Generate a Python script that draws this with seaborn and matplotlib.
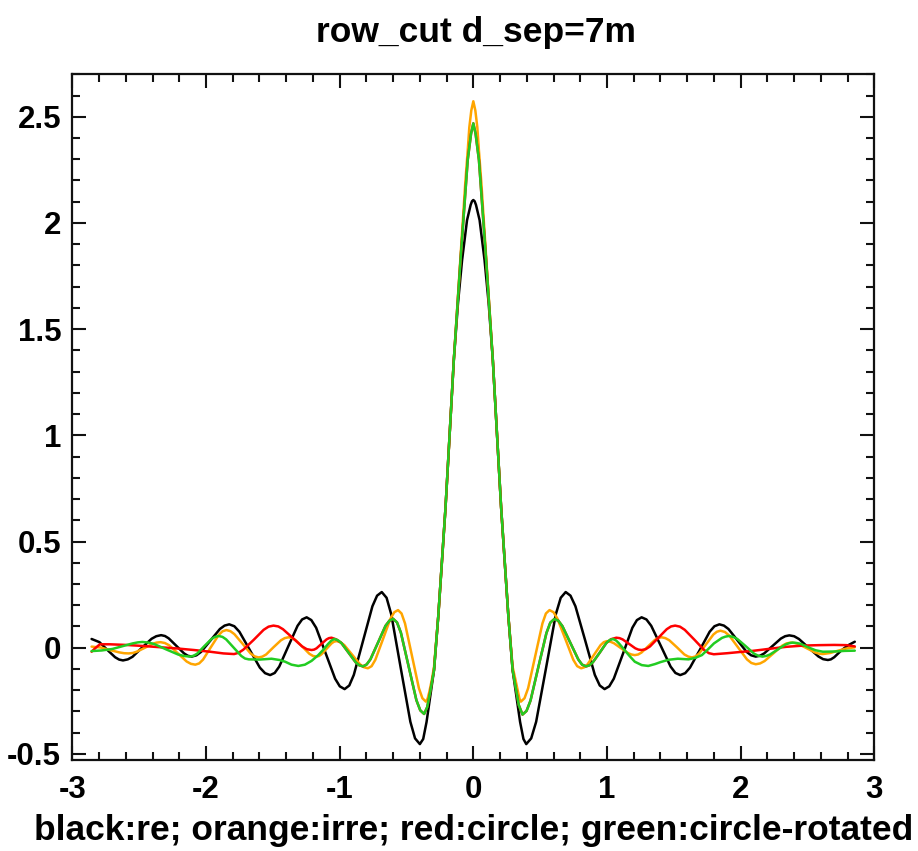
import numpy as np
import pandas as pd
import matplotlib
matplotlib.use("Agg")
import matplotlib.pyplot as plt
import seaborn as sns
from matplotlib.ticker import MultipleLocator

# ---------------- data ----------------
x_black = [-2.856, -2.797, -2.739, -2.680, -2.650, -2.621, -2.585, -2.550, -2.479, -2.407,
           -2.372, -2.336, -2.307, -2.279, -2.222, -2.164, -2.136, -2.107, -2.072,
           -2.037, -1.967, -1.896, -1.861, -1.826, -1.788, -1.750, -1.673, -1.597,
           -1.558, -1.520, -1.486, -1.452, -1.384, -1.315, -1.281, -1.247, -1.212,
           -1.176, -1.105, -1.034, -0.999, -0.963, -0.928, -0.894, -0.824, -0.755,
           -0.720, -0.685, -0.649, -0.614, -0.543, -0.471, -0.436, -0.400, -0.375,
           -0.350, -0.320, -0.294, -0.262, -0.232, -0.208, -0.190, -0.146, -0.115,
           -0.084, -0.047, -0.020, -0.010, 0.0,
           0.010, 0.020, 0.047, 0.084, 0.115, 0.146, 0.190, 0.208, 0.232, 0.262,
           0.294, 0.320, 0.350, 0.375, 0.396, 0.433, 0.470, 0.544, 0.617, 0.654,
           0.691, 0.727, 0.764, 0.837, 0.909, 0.946, 0.982, 1.017, 1.051, 1.121,
           1.190, 1.224, 1.259, 1.295, 1.331, 1.404, 1.476, 1.512, 1.548, 1.585,
           1.621, 1.695, 1.768, 1.804, 1.841, 1.875, 1.909, 1.977, 2.045, 2.079,
           2.113, 2.144, 2.176, 2.239, 2.301, 2.333, 2.364, 2.400, 2.436, 2.509,
           2.581, 2.617, 2.653, 2.675, 2.700, 2.750, 2.800, 2.854]
y_black = [0.041, 0.026, -0.010, -0.045, -0.056, -0.060, -0.055, -0.043, 0.000, 0.042,
           0.054, 0.059, 0.055, 0.044, 0.009, -0.027, -0.038, -0.042, -0.036,
           -0.020, 0.034, 0.088, 0.104, 0.110, 0.101, 0.075, -0.010, -0.094,
           -0.120, -0.129, -0.119, -0.089, 0.007, 0.103, 0.133, 0.143, 0.130,
           0.094, -0.026, -0.146, -0.182, -0.195, -0.178, -0.128, 0.034, 0.195,
           0.245, 0.262, 0.235, 0.157, -0.096, -0.349, -0.427, -0.454, -0.430,
           -0.350, -0.220, -0.105, 0.150, 0.430, 0.660, 0.860, 1.354, 1.620,
           1.825, 2.013, 2.085, 2.102, 2.108,
           2.102, 2.085, 2.013, 1.825, 1.620, 1.354, 0.860, 0.660, 0.430, 0.150,
           -0.105, -0.220, -0.350, -0.430, -0.454, -0.427, -0.349, -0.096, 0.157, 0.235,
           0.262, 0.245, 0.195, 0.034, -0.128, -0.178, -0.195, -0.182, -0.146, -0.026,
           0.094, 0.130, 0.143, 0.133, 0.103, 0.007, -0.089, -0.119, -0.129, -0.120,
           -0.094, -0.010, 0.075, 0.101, 0.110, 0.104, 0.088, 0.034, -0.020, -0.036,
           -0.042, -0.038, -0.027, 0.008, 0.043, 0.054, 0.058, 0.054, 0.041, 0.000,
           -0.041, -0.054, -0.058, -0.055, -0.045, -0.015, 0.010, 0.028]

x_orange = [-2.856, -2.790, -2.720, -2.650, -2.613, -2.578, -2.548, -2.519, -2.459, -2.400,
            -2.370, -2.340, -2.308, -2.275, -2.210, -2.145, -2.113, -2.080, -2.051,
            -2.022, -1.964, -1.906, -1.877, -1.848, -1.818, -1.788, -1.727, -1.667,
            -1.636, -1.606, -1.578, -1.550, -1.495, -1.439, -1.411, -1.383, -1.357,
            -1.331, -1.278, -1.226, -1.199, -1.173, -1.154, -1.136, -1.099, -1.061,
            -1.043, -1.024, -0.995, -0.965, -0.907, -0.848, -0.818, -0.789, -0.761,
            -0.733, -0.676, -0.620, -0.591, -0.563, -0.537, -0.511, -0.459, -0.407,
            -0.381, -0.355, -0.342, -0.330, -0.310, -0.294, -0.262, -0.232, -0.208,
            -0.190, -0.146, -0.096, -0.060, -0.042, -0.030, -0.015, 0.0,
            0.015, 0.030, 0.042, 0.060, 0.096, 0.146, 0.190, 0.208, 0.232, 0.262,
            0.294, 0.315, 0.335, 0.345, 0.356, 0.383, 0.410, 0.463, 0.517, 0.543,
            0.570, 0.600, 0.629, 0.689, 0.748, 0.777, 0.807, 0.831, 0.855, 0.904,
            0.952, 0.976, 1.000, 1.026, 1.052, 1.104, 1.156, 1.182, 1.208, 1.233,
            1.258, 1.309, 1.359, 1.384, 1.409, 1.437, 1.466, 1.523, 1.579, 1.608,
            1.636, 1.663, 1.689, 1.743, 1.796, 1.822, 1.849, 1.882, 1.915, 1.981,
            2.047, 2.080, 2.113, 2.146, 2.179, 2.245, 2.310, 2.343, 2.376, 2.406,
            2.436, 2.496, 2.555, 2.585, 2.615, 2.670, 2.730, 2.790, 2.854]
y_orange = [0.005, 0.001, -0.011, -0.022, -0.026, -0.027, -0.025, -0.019, -0.001, 0.018,
            0.024, 0.026, 0.022, 0.011, -0.027, -0.065, -0.076, -0.080, -0.074,
            -0.056, 0.002, 0.059, 0.077, 0.083, 0.078, 0.064, 0.019, -0.027,
            -0.041, -0.046, -0.042, -0.032, 0.002, 0.035, 0.045, 0.049, 0.046,
            0.036, 0.004, -0.029, -0.039, -0.042, -0.039, -0.031, -0.006, 0.020,
            0.028, 0.031, 0.026, 0.012, -0.033, -0.078, -0.092, -0.097, -0.087,
            -0.057, 0.040, 0.137, 0.167, 0.177, 0.161, 0.114, -0.039, -0.191,
            -0.238, -0.254, -0.240, -0.210, -0.150, -0.090, 0.150, 0.430, 0.660,
            0.860, 1.354, 1.840, 2.190, 2.340, 2.450, 2.530, 2.573,
            2.530, 2.450, 2.340, 2.190, 1.840, 1.354, 0.860, 0.660, 0.430, 0.150,
            -0.090, -0.150, -0.210, -0.240, -0.254, -0.238, -0.191, -0.039, 0.114, 0.161,
            0.177, 0.167, 0.137, 0.040, -0.057, -0.087, -0.097, -0.092, -0.078, -0.033,
            0.012, 0.026, 0.031, 0.028, 0.021, -0.002, -0.025, -0.032, -0.035, -0.032,
            -0.023, 0.007, 0.037, 0.046, 0.049, 0.045, 0.035, 0.002, -0.032, -0.042,
            -0.046, -0.041, -0.028, 0.017, 0.062, 0.075, 0.080, 0.074, 0.057, 0.001,
            -0.055, -0.072, -0.078, -0.074, -0.063, -0.027, 0.009, 0.020, 0.024, 0.022,
            0.016, -0.003, -0.022, -0.028, -0.030, -0.025, -0.014, -0.004, 0.002]

x_green = [-2.856, -2.780, -2.700, -2.630, -2.550, -2.510, -2.476, -2.430, -2.387, -2.298,
           -2.209, -2.165, -2.120, -2.093, -2.066, -2.013, -1.959, -1.932, -1.905,
           -1.877, -1.849, -1.793, -1.736, -1.708, -1.680, -1.600, -1.510, -1.450,
           -1.408, -1.360, -1.309, -1.260, -1.210, -1.160, -1.120, -1.086, -1.063,
           -1.040, -1.013,
           -0.987, -0.933, -0.880, -0.853, -0.826, -0.798, -0.770, -0.713, -0.657,
           -0.628, -0.600, -0.571, -0.542, -0.484, -0.426, -0.397, -0.368, -0.345,
           -0.320, -0.294, -0.262, -0.232, -0.208, -0.190, -0.146, -0.096, -0.042,
           -0.017, 0.0, 0.017, 0.042, 0.096, 0.146, 0.190, 0.208, 0.232, 0.262,
           0.294, 0.315, 0.340, 0.368, 0.398, 0.428, 0.487, 0.547, 0.576, 0.606,
           0.636, 0.666, 0.725, 0.785, 0.814, 0.844, 0.869, 0.894, 0.945, 0.995,
           1.020, 1.045, 1.068, 1.090, 1.130, 1.170, 1.208, 1.260, 1.309, 1.360,
           1.400, 1.460, 1.530, 1.610, 1.660, 1.710, 1.760, 1.800, 1.860, 1.886,
           1.912, 1.943, 1.975, 2.038, 2.100, 2.132, 2.163, 2.191, 2.220, 2.276,
           2.333, 2.361, 2.389, 2.420, 2.450, 2.500, 2.560, 2.615, 2.700, 2.780, 2.854]
y_green = [-0.016, -0.013, -0.006, 0.006, 0.020, 0.025, 0.027, 0.024, 0.017, -0.008,
           -0.032, -0.039, -0.042, -0.038, -0.028, 0.007, 0.041, 0.051, 0.055,
           0.051, 0.039, 0.000, -0.039, -0.051, -0.055, -0.056, -0.052, -0.058,
           -0.066, -0.080, -0.086, -0.080, -0.062, -0.035, -0.008, 0.018, 0.033,
           0.041, 0.035,
           0.022, -0.024, -0.069, -0.083, -0.088, -0.079, -0.055, 0.024, 0.103,
           0.127, 0.136, 0.119, 0.071, -0.088, -0.247, -0.295, -0.312, -0.280,
           -0.200, -0.105, 0.150, 0.430, 0.660, 0.860, 1.354, 1.825, 2.296,
           2.420, 2.469, 2.420, 2.296, 1.825, 1.354, 0.860, 0.660, 0.430, 0.150,
           -0.105, -0.180, -0.270, -0.315, -0.298, -0.249, -0.090, 0.069, 0.118, 0.135,
           0.127, 0.102, 0.024, -0.055, -0.080, -0.088, -0.083, -0.069, -0.024, 0.022,
           0.036, 0.041, 0.034, 0.020, -0.010, -0.040, -0.066, -0.082, -0.086, -0.077,
           -0.068, -0.057, -0.052, -0.055, -0.048, -0.035, -0.005, 0.020, 0.046, 0.052,
           0.055, 0.051, 0.041, 0.007, -0.028, -0.038, -0.042, -0.039, -0.032, -0.009,
           0.014, 0.021, 0.024, 0.022, 0.018, 0.003, -0.012, -0.019, -0.018, -0.015, -0.014]

x_red = [-2.856, -2.830, -2.794, -2.720, -2.600, -2.470, -2.340, -2.210, -2.090,
         -1.970, -1.870, -1.790, -1.756, -1.722, -1.643, -1.569, -1.532, -1.495,
         -1.459, -1.424, -1.353, -1.281, -1.246, -1.210, -1.191, -1.173, -1.136,
         -1.098, -1.080, -1.061, -1.025,
         -0.987, -0.933, -0.880, -0.853, -0.826, -0.798, -0.770, -0.713, -0.657,
         -0.628, -0.600, -0.571, -0.542, -0.484, -0.426, -0.397, -0.368, -0.345,
         -0.320, -0.294, -0.262, -0.232, -0.208, -0.190, -0.146, -0.096, -0.042,
         -0.017, 0.0, 0.017, 0.042, 0.096, 0.146, 0.190, 0.208, 0.232, 0.262,
         0.294, 0.315, 0.340, 0.368, 0.398, 0.428, 0.487, 0.547, 0.576, 0.606,
         0.636, 0.666, 0.725, 0.785, 0.814, 0.844, 0.869, 0.894, 0.945, 0.995,
         1.030, 1.070, 1.094, 1.117, 1.165, 1.212, 1.235, 1.259, 1.290, 1.322,
         1.385, 1.447, 1.479, 1.510, 1.546, 1.582, 1.655, 1.727, 1.763, 1.799,
         1.900, 2.000, 2.090, 2.220, 2.340, 2.470, 2.590, 2.700, 2.790, 2.854]
y_red = [-0.019, -0.003, 0.016, 0.016, 0.013, 0.008, 0.002, -0.004, -0.011,
         -0.019, -0.027, -0.030, -0.024, -0.010, 0.037, 0.084, 0.099, 0.104,
         0.100, 0.087, 0.047, 0.006, -0.007, -0.011, -0.009, -0.003, 0.018,
         0.039, 0.045, 0.047, 0.039,
         0.022, -0.024, -0.069, -0.083, -0.088, -0.079, -0.055, 0.024, 0.103,
         0.127, 0.136, 0.119, 0.071, -0.088, -0.247, -0.295, -0.312, -0.280,
         -0.200, -0.105, 0.150, 0.430, 0.660, 0.860, 1.354, 1.825, 2.296,
         2.420, 2.469, 2.420, 2.296, 1.825, 1.354, 0.860, 0.660, 0.430, 0.150,
         -0.105, -0.180, -0.270, -0.315, -0.298, -0.249, -0.090, 0.069, 0.118, 0.135,
         0.127, 0.102, 0.024, -0.055, -0.080, -0.088, -0.083, -0.069, -0.024, 0.022,
         0.040, 0.047, 0.045, 0.039, 0.018, -0.003, -0.009, -0.011, -0.007, 0.006,
         0.047, 0.087, 0.100, 0.104, 0.099, 0.084, 0.037, -0.011, -0.026, -0.031,
         -0.026, -0.020, -0.015, -0.005, 0.004, 0.010, 0.012, 0.013, 0.012, 0.006]

series_names = ["re", "irre", "circle", "circle-rotated"]
series_colors = ["#000000", "#FFA500", "#FF0000", "#22CC22"]
title_text = "row_cut d_sep=7m"
xlabel_text = "black:re; orange:irre; red:circle; green:circle-rotated"
x_ticks = [-3, -2, -1, 0, 1, 2, 3]
x_ticklabels = ["-3", "-2", "-1", "0", "1", "2", "3"]
y_ticks = [-0.5, 0, 0.5, 1, 1.5, 2, 2.5]
y_ticklabels = ["-0.5", "0", "0.5", "1", "1.5", "2", "2.5"]

# ---------------- figure ----------------
sns.set_style("ticks")
plt.rcParams["font.family"] = ["Liberation Sans", "DejaVu Sans"]
plt.rcParams["font.weight"] = "bold"
plt.rcParams["text.color"] = "black"
plt.rcParams["axes.labelcolor"] = "black"
plt.rcParams["xtick.color"] = "black"
plt.rcParams["ytick.color"] = "black"

fig = plt.figure(figsize=(9.18, 8.51), dpi=100)
ax = fig.add_axes([0.0788, 0.1069, 0.8736, 0.8058])

xs = [x_black, x_orange, x_red, x_green]
ys = [y_black, y_orange, y_red, y_green]
for name, color, xv, yv in zip(series_names, series_colors, xs, ys):
    df = pd.DataFrame({"x": xv, "y": yv})
    sns.lineplot(data=df, x="x", y="y", ax=ax, color=color, linewidth=1.8,
                 sort=False, estimator=None)

ax.set_xlim(-3, 3)
ax.set_ylim(-0.529, 2.70)
ax.set_xticks(x_ticks)
ax.set_xticklabels(x_ticklabels)
ax.set_yticks(y_ticks)
ax.set_yticklabels(y_ticklabels)
ax.xaxis.set_minor_locator(MultipleLocator(0.2))
ax.yaxis.set_minor_locator(MultipleLocator(0.1))
ax.tick_params(which="both", direction="in", top=True, right=True, width=1.5,
               color="#111111")
ax.tick_params(which="major", length=10)
ax.tick_params(which="minor", length=5.5)
ax.tick_params(axis="y", which="major", labelsize=22.5, pad=8)
ax.tick_params(axis="x", which="major", labelsize=22.5, pad=11)
for lab in ax.get_xticklabels() + ax.get_yticklabels():
    lab.set_fontweight("bold")
for sp in ax.spines.values():
    sp.set_linewidth(1.6)
    sp.set_color("#111111")

ax.set_xlabel(xlabel_text, fontsize=25.5, fontweight="bold", labelpad=6)
ax.set_ylabel("")
fig.text(0.518, 0.962, title_text, ha="center", va="center", fontsize=25.5,
         fontweight="bold")

fig.savefig("out.png", dpi=100)
